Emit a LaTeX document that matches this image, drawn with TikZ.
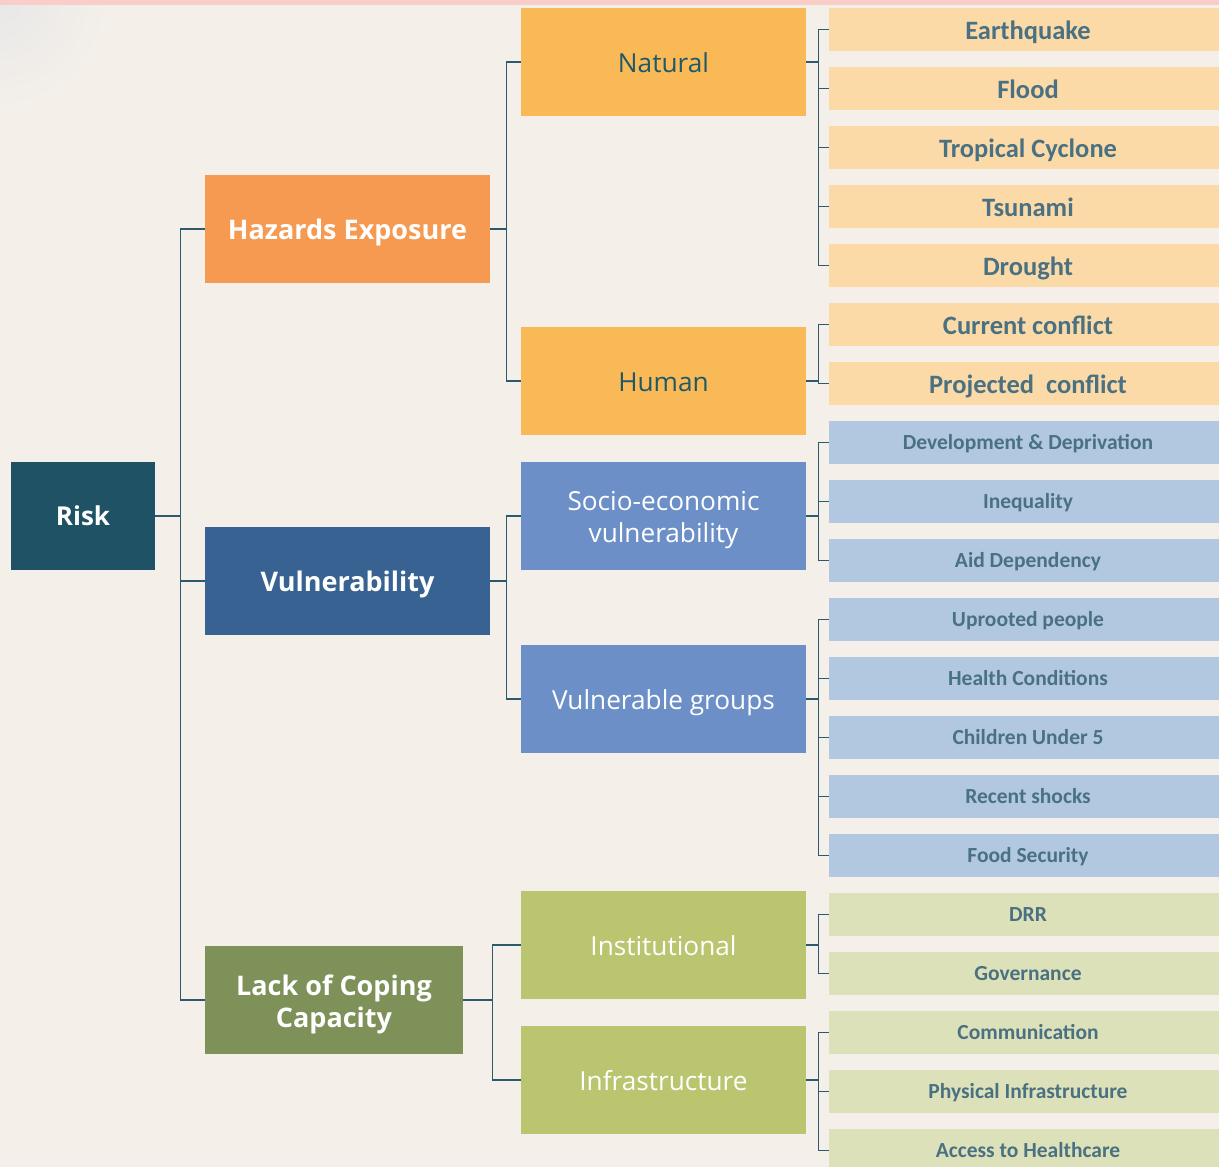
\documentclass[tikz,border=0pt]{standalone}
\usepackage{fontspec}
\setmainfont{Open Sans}
\newfontfamily\leaffont{Carlito}
\definecolor{bg}{HTML}{F4EFE9}
\definecolor{topstrip}{HTML}{F9CDC8}
\definecolor{riskc}{HTML}{1F5264}
\definecolor{hazc}{HTML}{F79A51}
\definecolor{vulc}{HTML}{376291}
\definecolor{copec}{HTML}{7E9159}
\definecolor{natc}{HTML}{F9B956}
\definecolor{socc}{HTML}{6B8FC6}
\definecolor{instc}{HTML}{BBC46F}
\definecolor{leafo}{HTML}{FCDAA8}
\definecolor{leafb}{HTML}{B2C8E1}
\definecolor{leafg}{HTML}{DDE1B9}
\definecolor{leaftext}{HTML}{4A7182}
\definecolor{darktext}{HTML}{215868}
\definecolor{linec}{HTML}{2B5A6C}
\tikzset{
  box/.style={rectangle, inner sep=0pt, align=center, text=white},
  lvlzero/.style={box, fill=riskc, minimum width=144pt, minimum height=108pt, text height=18.6pt, text depth=0pt, font=\bfseries\fontsize{26}{32}\selectfont},
  lvlone/.style={box, minimum width=285pt, minimum height=108pt, text height=20pt, text depth=0pt, font=\bfseries\fontsize{27}{32}\selectfont},
  lvltwo/.style={box, minimum width=285pt, minimum height=108pt, text height=20pt, text depth=0pt, font=\fontsize{26.2}{32}\selectfont},
  plainbox/.style={rectangle, inner sep=0pt, minimum width=285pt, minimum height=108pt},
  boxtext/.style={inner sep=0pt, align=center, text=white},
  leaf/.style={box, minimum width=398pt, minimum height=43pt, text=leaftext, text depth=0pt},
  leafbig/.style={leaf, text height=19.5pt, font=\leaffont\bfseries\fontsize{26.5}{30}\selectfont},
  leafsmall/.style={leaf, text height=13.8pt, font=\leaffont\bfseries\fontsize{21.5}{26}\selectfont},
  conn/.style={draw=linec, line width=1.2pt},
}
\begin{document}
\begin{tikzpicture}[x=1pt,y=-1pt]
\fill[bg] (0,0) rectangle (1219,1167);
\begin{scope}
\clip (0,0) rectangle (120,120);
\shade[inner color=black!9, outer color=bg] (0,0) circle (110);
\end{scope}
\fill[topstrip] (0,0) rectangle (1219,5);
\useasboundingbox (0,0) rectangle (1219,1167);

% level 0
\node[lvlzero] (risk) at (83,516) {Risk};
% level 1
\node[lvlone, fill=hazc] (haz) at (347.5,229) {Hazards Exposure};
\node[lvlone, fill=vulc] (vul) at (347.5,581) {Vulnerability};
\node[plainbox, fill=copec, minimum width=258pt] (cope) at (334,1000) {};
\node[boxtext, font=\bfseries\fontsize{27}{32}\selectfont] (copet) at ([yshift=-4pt]cope.center) {Lack of Coping\\Capacity};
% level 2
\node[lvltwo, fill=natc, text=darktext] (nat) at (663.5,62) {Natural};
\node[lvltwo, fill=natc, text=darktext] (hum) at (663.5,381) {Human};
\node[plainbox, fill=socc] (soc) at (663.5,516) {};
\node[boxtext, font=\fontsize{26.2}{32}\selectfont] (soct) at ([yshift=-4pt]soc.center) {Socio-economic\\vulnerability};
\node[lvltwo, fill=socc] (grp) at (663.5,699) {Vulnerable groups};
\node[lvltwo, fill=instc] (inst) at (663.5,945) {Institutional};
\node[lvltwo, fill=instc] (infra) at (663.5,1080) {Infrastructure};
% leaves
\node[leafbig, fill=leafo] (l1) at (1028,29.5) {Earthquake};
\node[leafbig, fill=leafo] (l2) at (1028,88.5) {Flood};
\node[leafbig, fill=leafo] (l3) at (1028,147.5) {Tropical Cyclone};
\node[leafbig, fill=leafo] (l4) at (1028,206.5) {Tsunami};
\node[leafbig, fill=leafo] (l5) at (1028,265.5) {Drought};
\node[leafbig, fill=leafo] (l6) at (1028,324.5) {Current conflict};
\node[leafbig, fill=leafo] (l7) at (1028,383.5) {Projected\ \ conflict};
\node[leafsmall, fill=leafb] (l8) at (1028,442.5) {Development \& Deprivation};
\node[leafsmall, fill=leafb] (l9) at (1028,501.5) {Inequality};
\node[leafsmall, fill=leafb] (l10) at (1028,560.5) {Aid Dependency};
\node[leafsmall, fill=leafb] (l11) at (1028,619.5) {Uprooted people};
\node[leafsmall, fill=leafb] (l12) at (1028,678.5) {Health Conditions};
\node[leafsmall, fill=leafb] (l13) at (1028,737.5) {Children Under 5};
\node[leafsmall, fill=leafb] (l14) at (1028,796.5) {Recent shocks};
\node[leafsmall, fill=leafb] (l15) at (1028,855.5) {Food Security};
\node[leafsmall, fill=leafg] (l16) at (1028,914.5) {DRR};
\node[leafsmall, fill=leafg] (l17) at (1028,973.5) {Governance};
\node[leafsmall, fill=leafg] (l18) at (1028,1032.5) {Communication};
\node[leafsmall, fill=leafg] (l19) at (1028,1091.5) {Physical Infrastructure};
\node[leafsmall, fill=leafg] (l20) at (1028,1150.5) {Access to Healthcare};

% connectors level 0 -> 1
\foreach \c in {haz,vul,cope} \draw[conn] (risk.east) -- ++(25,0) |- (\c.west);
% level 1 -> 2
\foreach \c in {nat,hum} \draw[conn] (haz.east) -- ++(16,0) |- (\c.west);
\foreach \c in {soc,grp} \draw[conn] (vul.east) -- ++(16,0) |- (\c.west);
\foreach \c in {inst,infra} \draw[conn] (cope.east) -- ++(29,0) |- (\c.west);
% level 2 -> leaves
\foreach \c in {l1,l2,l3,l4,l5} \draw[conn] (nat.east) -- ++(12,0) |- (\c.west);
\foreach \c in {l6,l7} \draw[conn] (hum.east) -- ++(12,0) |- (\c.west);
\foreach \c in {l8,l9,l10} \draw[conn] (soc.east) -- ++(12,0) |- (\c.west);
\foreach \c in {l11,l12,l13,l14,l15} \draw[conn] (grp.east) -- ++(12,0) |- (\c.west);
\foreach \c in {l16,l17} \draw[conn] (inst.east) -- ++(12,0) |- (\c.west);
\foreach \c in {l18,l19,l20} \draw[conn] (infra.east) -- ++(12,0) |- (\c.west);
\end{tikzpicture}
\end{document}
